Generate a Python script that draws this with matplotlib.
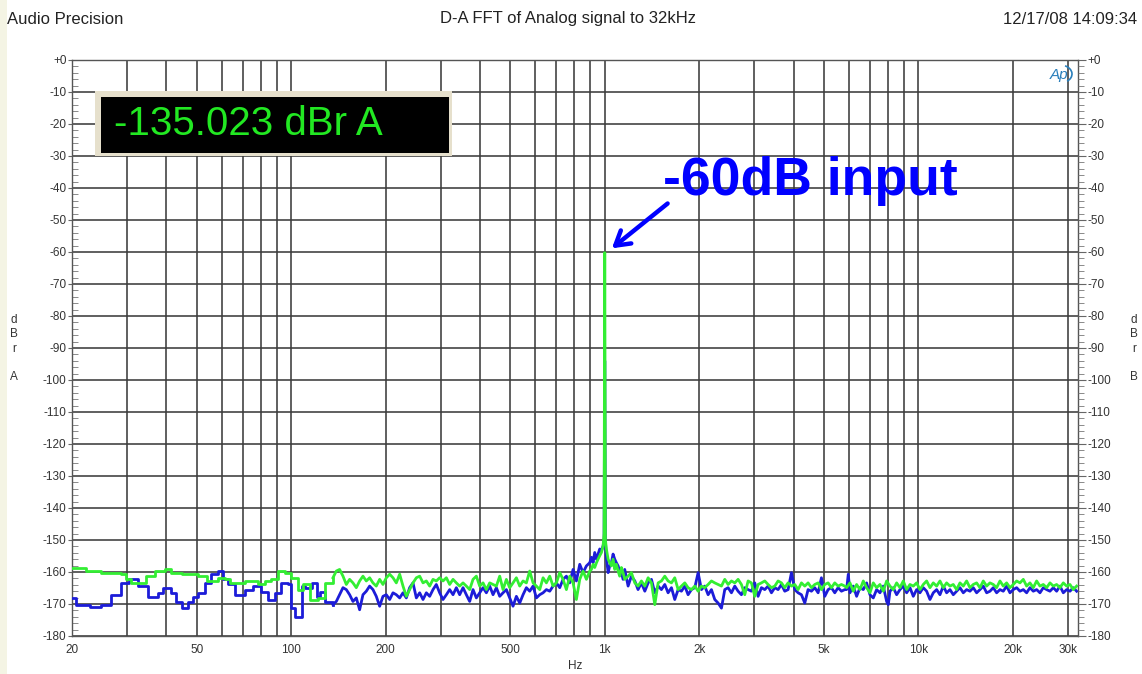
import matplotlib
matplotlib.use("Agg")
import matplotlib.pyplot as plt
from matplotlib.patches import Rectangle, Arc
from matplotlib.ticker import FixedLocator, LogLocator, MultipleLocator, NullFormatter

plt.rcParams['font.family'] = ['Liberation Sans', 'DejaVu Sans']

W, H = 1142, 674

# ---- data (Hz, dBr) ----
green_low_hz = [20, 22.2, 24.8, 28.7, 29.8, 30.9, 34.5, 36.7, 39.5, 41.5, 44.7, 50.5, 53.7, 58.5,
                61.4, 63.7, 71.1, 78.5, 82.4, 86.5, 90.9, 95.4, 100.2, 105.3, 109.2, 114.7, 122.0, 128.0]
green_low_db = [-158.6, -159.7, -160.2, -160.7, -162.3, -163.4, -161.3, -159.7, -159.1, -160.2, -160.7,
                -161.3, -162.9, -161.8, -162.3, -163.4, -162.9, -163.9, -162.9, -162.3, -159.7, -160.2,
                -161.8, -165.5, -163.9, -168.7, -168.2, -163.4]

blue_low_hz = [20, 20.6, 22.8, 24.8, 26.7, 28.7, 30.5, 32.5, 35.0, 37.6, 39.0, 41.5, 43.0, 44.7, 46.9,
               48.7, 50.5, 53.0, 55.7, 58.5, 60.7, 62.9, 66.1, 71.1, 75.6, 80.4, 84.5, 88.7, 93.1, 97.8,
               100.2, 102.7, 107.9, 110.5, 116.1, 120.5, 123.4, 128.0]
blue_low_db = [-168.2, -170.3, -170.9, -170.3, -167.1, -163.4, -162.3, -164.5, -167.7, -166.6,
               -165.0, -166.6, -169.3, -171.4, -169.3, -167.7, -166.6, -163.4, -160.7, -159.7,
               -162.3, -163.9, -167.1, -165.5, -164.5, -166.1, -168.7, -166.6, -163.4, -163.9,
               -171.4, -174.2, -164.5, -165.0, -163.4, -167.7, -166.1, -169.3]

mid_hz = [135.9, 139.3, 142.7, 146.3, 149.9, 153.6, 157.4, 161.3, 165.3, 169.4,
          173.6, 177.9, 182.3, 186.8, 191.5, 196.2, 201.1, 206.1, 211.2, 216.4,
          221.8, 227.3, 232.9, 238.7, 244.6, 250.7, 256.9, 263.3, 269.8, 276.5,
          283.3, 290.3, 297.5, 304.9, 312.5, 320.2, 328.2, 336.3, 344.6, 353.2,
          361.9, 370.9, 380.1, 389.5, 399.2, 409.1, 419.2, 429.6, 440.3, 451.2,
          462.4, 473.8, 485.6, 497.6, 509.9, 522.6, 535.5, 548.8, 562.4, 576.4,
          590.7, 605.3, 620.3, 635.7, 651.4, 667.6, 684.1, 701.1, 718.5, 736.3,
          754.5, 773.2, 792.4, 812.0, 832.2, 852.8, 874.0, 895.6]
green_mid_db = [-161.8, -159.7, -159.2, -161.3, -163.9, -162.3, -163.4, -164.9, -162.8, -161.3,
                -162.8, -161.8, -163.4, -164.4, -162.3, -163.9, -161.8, -160.7, -161.8, -163.4,
                -160.7, -164.4, -167.6, -165.5, -163.4, -161.8, -161.3, -163.4, -162.8, -164.4,
                -162.3, -162.8, -161.8, -162.8, -161.8, -163.9, -162.3, -163.4, -164.4, -163.4,
                -164.4, -165.5, -162.3, -161.3, -164.4, -163.4, -165.5, -163.4, -163.9, -164.4,
                -161.3, -165.5, -162.3, -164.9, -163.4, -161.8, -164.4, -162.8, -163.4, -159.7,
                -163.4, -164.4, -165.5, -161.8, -163.4, -161.3, -164.4, -163.4, -160.2, -162.3,
                -165.5, -161.3, -163.4, -168.6, -162.3, -159.7, -162.3, -159.7]
blue_mid_db = [-170.2, -169.2, -167.1, -164.9, -165.5, -167.1, -169.2, -168.1, -171.8, -167.1,
               -166.0, -164.4, -165.5, -167.6, -170.7, -167.6, -167.1, -168.6, -166.5, -167.1,
               -168.1, -166.5, -168.1, -164.9, -163.4, -168.1, -166.5, -168.6, -166.5, -167.6,
               -165.5, -163.9, -166.5, -168.6, -167.1, -165.5, -167.1, -164.9, -167.1, -164.9,
               -167.1, -169.2, -165.5, -168.1, -166.5, -164.9, -166.5, -164.4, -167.1, -164.9,
               -167.6, -166.5, -165.5, -168.1, -170.7, -167.6, -169.7, -167.1, -164.9, -166.0,
               -164.4, -168.1, -167.1, -166.5, -165.5, -166.0, -164.4, -163.4, -164.9, -162.3,
               -161.3, -163.4, -159.2, -162.8, -157.6, -160.2, -158.1, -157.1]

peak_hz = [906.7, 918, 929, 941, 952, 964, 976, 988, 995, 1000, 1005,
           1012, 1025, 1037, 1050, 1063, 1076, 1089, 1103, 1116, 1130, 1144, 1158,
           1187, 1216, 1247, 1277, 1309, 1342, 1375, 1409, 1444, 1480,
           1516, 1554, 1592, 1632, 1672, 1714, 1756, 1800, 1844, 1890,
           1937, 1985, 2034, 2084, 2136, 2189, 2243, 2299, 2356, 2414,
           2474, 2535, 2598, 2662, 2728, 2796, 2865, 2936, 3009, 3083,
           3160, 3238, 3318, 3401, 3485, 3571, 3660, 3750, 3843, 3939,
           4036, 4136, 4239, 4344, 4451, 4562, 4675, 4791, 4909, 5031,
           5156, 5283, 5414, 5548, 5686, 5827]
green_peak_db = [-159.2, -157.6, -158.6, -157.1, -156.0, -154.9, -153.9, -151.8, -148.0, -60.2, -150.0,
                 -152.8, -156.0, -157.1, -158.1, -156.0, -159.2, -157.6, -159.7, -161.3, -158.6, -160.2, -162.3,
                 -161.3, -160.2, -163.4, -164.4, -162.8, -164.4, -161.8, -163.4, -170.2, -163.4,
                 -162.8, -161.3, -162.8, -163.4, -161.8, -165.5, -164.4, -163.4, -164.9, -165.5,
                 -164.4, -166.0, -164.4, -164.9, -163.9, -162.8, -163.4, -163.9, -164.4, -162.3,
                 -163.9, -162.8, -163.4, -162.3, -163.9, -167.1, -162.8, -163.4, -167.6, -163.9,
                 -163.4, -162.8, -163.9, -164.9, -164.4, -162.8, -163.4, -164.9, -163.4, -164.4,
                 -163.9, -165.5, -163.4, -164.4, -163.4, -164.9, -163.9, -163.4, -165.5, -163.9,
                 -163.4, -164.9, -163.4, -164.4, -163.9, -164.4]
blue_peak_db = [-155.4, -157.1, -153.9, -156.0, -154.4, -152.8, -153.4, -151.8, -150.0, -94.0, -150.5,
                -155.5, -160.2, -158.1, -157.1, -154.4, -156.0, -157.1, -158.1, -159.7, -160.2, -162.3, -159.2,
                -164.4, -161.3, -162.8, -165.5, -163.4, -166.0, -163.4, -162.3, -166.5, -164.4,
                -165.5, -163.9, -166.5, -164.9, -168.6, -165.5, -166.0, -164.4, -167.1, -165.5,
                -164.9, -160.2, -165.5, -164.4, -167.1, -165.5, -168.6, -169.7, -171.3, -165.5,
                -164.9, -166.5, -164.4, -166.0, -167.1, -164.9, -165.5, -166.0, -163.4, -167.6,
                -164.9, -165.5, -164.4, -166.5, -164.9, -165.5, -163.9, -166.0, -165.5, -160.2,
                -165.5, -166.5, -167.1, -169.7, -165.5, -166.0, -164.9, -166.5, -161.8, -167.6,
                -165.5, -164.9, -166.5, -164.9, -166.0, -165.5]

green_high_hz = [5906, 6053, 6203, 6356, 6514, 6676, 6841, 7010, 7184, 7362,
                 7545, 7732, 7923, 8120, 8321, 8527, 8738, 8955, 9177, 9404,
                 9637, 9876, 10120, 10371, 10628, 10892, 11161, 11438, 11722, 12012,
                 12309, 12615, 12927, 13247, 13576, 13912, 14257, 14610, 14972, 15343,
                 15724, 16113, 16513, 16922, 17341, 17771, 18211, 18662, 19125, 19599,
                 20084, 20582, 21092, 21615, 22150, 22699, 23262, 23838, 24429, 25035,
                 25655, 26291, 26942, 27610, 28294, 28995, 29714, 30450, 31205, 31978]
green_high_db = [-164.9, -163.4, -166.0, -163.9, -165.5, -162.8, -164.9, -166.5, -163.4, -164.9,
                 -163.9, -166.0, -162.8, -164.4, -165.5, -163.4, -164.9, -162.8, -165.5, -163.9,
                 -164.4, -163.4, -165.5, -163.9, -162.8, -164.9, -163.4, -164.4, -162.8, -164.9,
                 -163.4, -164.4, -163.9, -165.5, -163.4, -164.4, -162.8, -164.9, -163.9, -163.4,
                 -164.9, -162.8, -164.4, -163.4, -163.9, -164.9, -162.8, -164.4, -163.4, -164.9,
                 -163.9, -162.8, -163.4, -162.3, -164.4, -163.4, -164.9, -162.8, -164.4, -163.9,
                 -164.9, -163.4, -164.4, -163.9, -164.9, -163.4, -164.4, -163.9, -165.5, -164.4]

blue_high_hz = [5906, 5979, 6053, 6203, 6356, 6514, 6676, 6841, 7010, 7184,
                7362, 7545, 7732, 7923, 8021, 8120, 8321, 8527, 8738, 8955,
                9177, 9404, 9637, 9876, 10120, 10371, 10628, 10892, 11161, 11438,
                11722, 12012, 12309, 12615, 12927, 13247, 13576, 13912, 14257, 14610,
                14972, 15343, 15724, 16113, 16513, 16922, 17341, 17771, 18211, 18662,
                19125, 19599, 20084, 20582, 21092, 21615, 22150, 22699, 23262, 23838,
                24429, 25035, 25655, 26291, 26942, 27610, 28294, 28995, 29714, 30450,
                31205, 31978]
blue_high_db = [-165.5, -160.7, -166.5, -164.4, -167.6, -164.9, -165.5, -163.4, -167.1, -168.1,
                -165.5, -166.5, -164.4, -169.2, -170.2, -166.0, -164.9, -167.1, -165.5, -164.4,
                -166.5, -164.9, -167.6, -165.5, -166.5, -164.9, -166.0, -168.6, -166.5, -165.5,
                -167.1, -164.4, -166.5, -165.5, -167.1, -166.0, -164.9, -166.5, -165.5, -166.0,
                -164.9, -166.5, -165.5, -164.4, -166.5, -166.0, -164.9, -166.5, -165.5, -166.0,
                -164.4, -166.5, -165.5, -164.9, -166.0, -165.5, -166.5, -164.9, -166.0, -165.5,
                -166.5, -164.9, -165.5, -166.0, -164.9, -166.0, -164.4, -166.5, -165.5, -166.0,
                -164.9, -166.0]

green_hz = green_low_hz + mid_hz + peak_hz + green_high_hz
green_db = green_low_db + green_mid_db + green_peak_db + green_high_db
blue_hz = blue_low_hz + mid_hz + peak_hz + blue_high_hz
blue_db = blue_low_db + blue_mid_db + blue_peak_db + blue_high_db

x_ticks = [20, 50, 100, 200, 500, 1000, 2000, 5000, 10000, 20000, 30000]
x_labels = ['20', '50', '100', '200', '500', '1k', '2k', '5k', '10k', '20k', '30k']
y_ticks = [0, -10, -20, -30, -40, -50, -60, -70, -80, -90, -100, -110, -120, -130, -140, -150, -160, -170, -180]
y_labels = ['+0', '-10', '-20', '-30', '-40', '-50', '-60', '-70', '-80', '-90', '-100', '-110', '-120',
            '-130', '-140', '-150', '-160', '-170', '-180']

readout = '-135.023 dBr A'
note = '-60dB input'
note_tip = (1037, -59.4)
note_tail = (1612, -44.3)
note_pos = (1531, -42.3)

# ---- figure ----
fig = plt.figure(figsize=(W / 100, H / 100), dpi=100)
fig.patch.set_facecolor('white')
fig.add_artist(Rectangle((0, 0), 7 / W, 1, transform=fig.transFigure, facecolor='#f4f4e4', edgecolor='none'))

ax = fig.add_axes([72 / W, 38 / H, 1006 / W, 576 / H])
ax.set_xscale('log')
ax.set_xlim(20, 32300)
ax.set_ylim(-180, 0)

gridc = '#3c3c3c'
ax.xaxis.set_major_locator(FixedLocator(x_ticks))
ax.xaxis.set_major_formatter(plt.FixedFormatter(x_labels))
ax.xaxis.set_minor_locator(LogLocator(base=10, subs=range(1, 10)))
ax.xaxis.set_minor_formatter(NullFormatter())
ax.xaxis.grid(True, which='both', color=gridc, lw=1.15)
ax.yaxis.set_major_locator(FixedLocator(y_ticks))
ax.yaxis.set_major_formatter(plt.FixedFormatter(y_labels))
ax.yaxis.set_minor_locator(MultipleLocator(2))
ax.yaxis.grid(True, which='major', color=gridc, lw=1.15)
ax.set_axisbelow(True)

ax.tick_params(axis='x', which='both', length=0, pad=6, labelsize=8.5, labelcolor='#333333')
ax.tick_params(axis='y', which='major', direction='out', length=3, pad=1, labelsize=8.5,
               labelcolor='#333333', color='#666666')
ax.tick_params(axis='y', which='minor', direction='in', length=4, color='#777777')
for s in ax.spines.values():
    s.set_color('#555555')
    s.set_linewidth(1.0)

ax2 = ax.twinx()
ax2.set_ylim(-180, 0)
ax2.yaxis.set_major_locator(FixedLocator(y_ticks))
ax2.yaxis.set_major_formatter(plt.FixedFormatter(y_labels))
ax2.yaxis.set_minor_locator(MultipleLocator(2))
ax2.tick_params(axis='y', which='major', direction='out', length=6, pad=1, labelsize=8.5,
                labelcolor='#333333', color='#666666')
ax2.tick_params(axis='y', which='minor', direction='out', length=4, color='#777777')
for s in ax2.spines.values():
    s.set_visible(False)

# FFT bins show as steps at the low end, as a jagged line above
blue_c, green_c = '#1c1cd8', '#33ee33'
nb, ng = len(blue_low_hz), len(green_low_hz)
ax.plot(blue_hz[:nb + 1], blue_db[:nb + 1], color=blue_c, lw=2.0, drawstyle='steps-post', zorder=3)
ax.plot(blue_hz[nb:], blue_db[nb:], color=blue_c, lw=2.0, zorder=3)
ax.plot(green_hz[:ng + 1], green_db[:ng + 1], color=green_c, lw=2.0, drawstyle='steps-post', zorder=4)
ax.plot(green_hz[ng:], green_db[ng:], color=green_c, lw=2.0, zorder=4)

ax.annotate('', xy=note_tip, xytext=note_tail,
            arrowprops=dict(arrowstyle='->,head_length=1.0,head_width=0.6', color='#0000ff', lw=3.2),
            zorder=6)
ax.text(note_pos[0], note_pos[1], note, color='#0000ff', fontsize=38.5, fontweight='bold',
        va='baseline', ha='left', zorder=6)

# readout box
fig.add_artist(Rectangle((95 / W, 1 - 156 / H), 357 / W, 65 / H, transform=fig.transFigure,
                         facecolor='#e6e0cc', edgecolor='none', zorder=5))
fig.add_artist(Rectangle((101 / W, 1 - 153 / H), 348 / W, 56 / H, transform=fig.transFigure,
                         facecolor='black', edgecolor='none', zorder=6))
fig.text(114 / W, 1 - 135 / H, readout, color='#22e822', fontsize=29, va='baseline', ha='left', zorder=7)

# AP logo
fig.text(1059 / W, 1 - 75 / H, 'Ap', color='#2a7fbb', fontsize=11, style='italic',
         ha='center', va='center', zorder=7)
fig.add_artist(Arc((1060 / W, 1 - 74 / H), 24 / W, 18 / H, theta1=-60, theta2=70,
                   transform=fig.transFigure, color='#2a7fbb', lw=1.2, zorder=7))

# header texts
fig.text(7 / W, 1 - 19 / H, 'Audio Precision', fontsize=12, color='#222222', ha='left', va='center')
fig.text(568 / W, 1 - 19 / H, 'D-A FFT of Analog signal to 32kHz', fontsize=12, color='#222222',
         ha='center', va='center')
fig.text(1137 / W, 1 - 19 / H, '12/17/08 14:09:34', fontsize=12, color='#222222', ha='right', va='center')

# axis unit labels
fig.text(575 / W, 1 - 666 / H, 'Hz', fontsize=8.5, color='#333333', ha='center', va='center')
for ch, yy in zip(['d', 'B', 'r', 'A'], [320, 334, 349, 377]):
    fig.text(14 / W, 1 - yy / H, ch, fontsize=8.5, color='#333333', ha='center', va='center')
for ch, yy in zip(['d', 'B', 'r', 'B'], [320, 334, 349, 377]):
    fig.text(1134 / W, 1 - yy / H, ch, fontsize=8.5, color='#333333', ha='center', va='center')

fig.savefig('out.png', dpi=100)
